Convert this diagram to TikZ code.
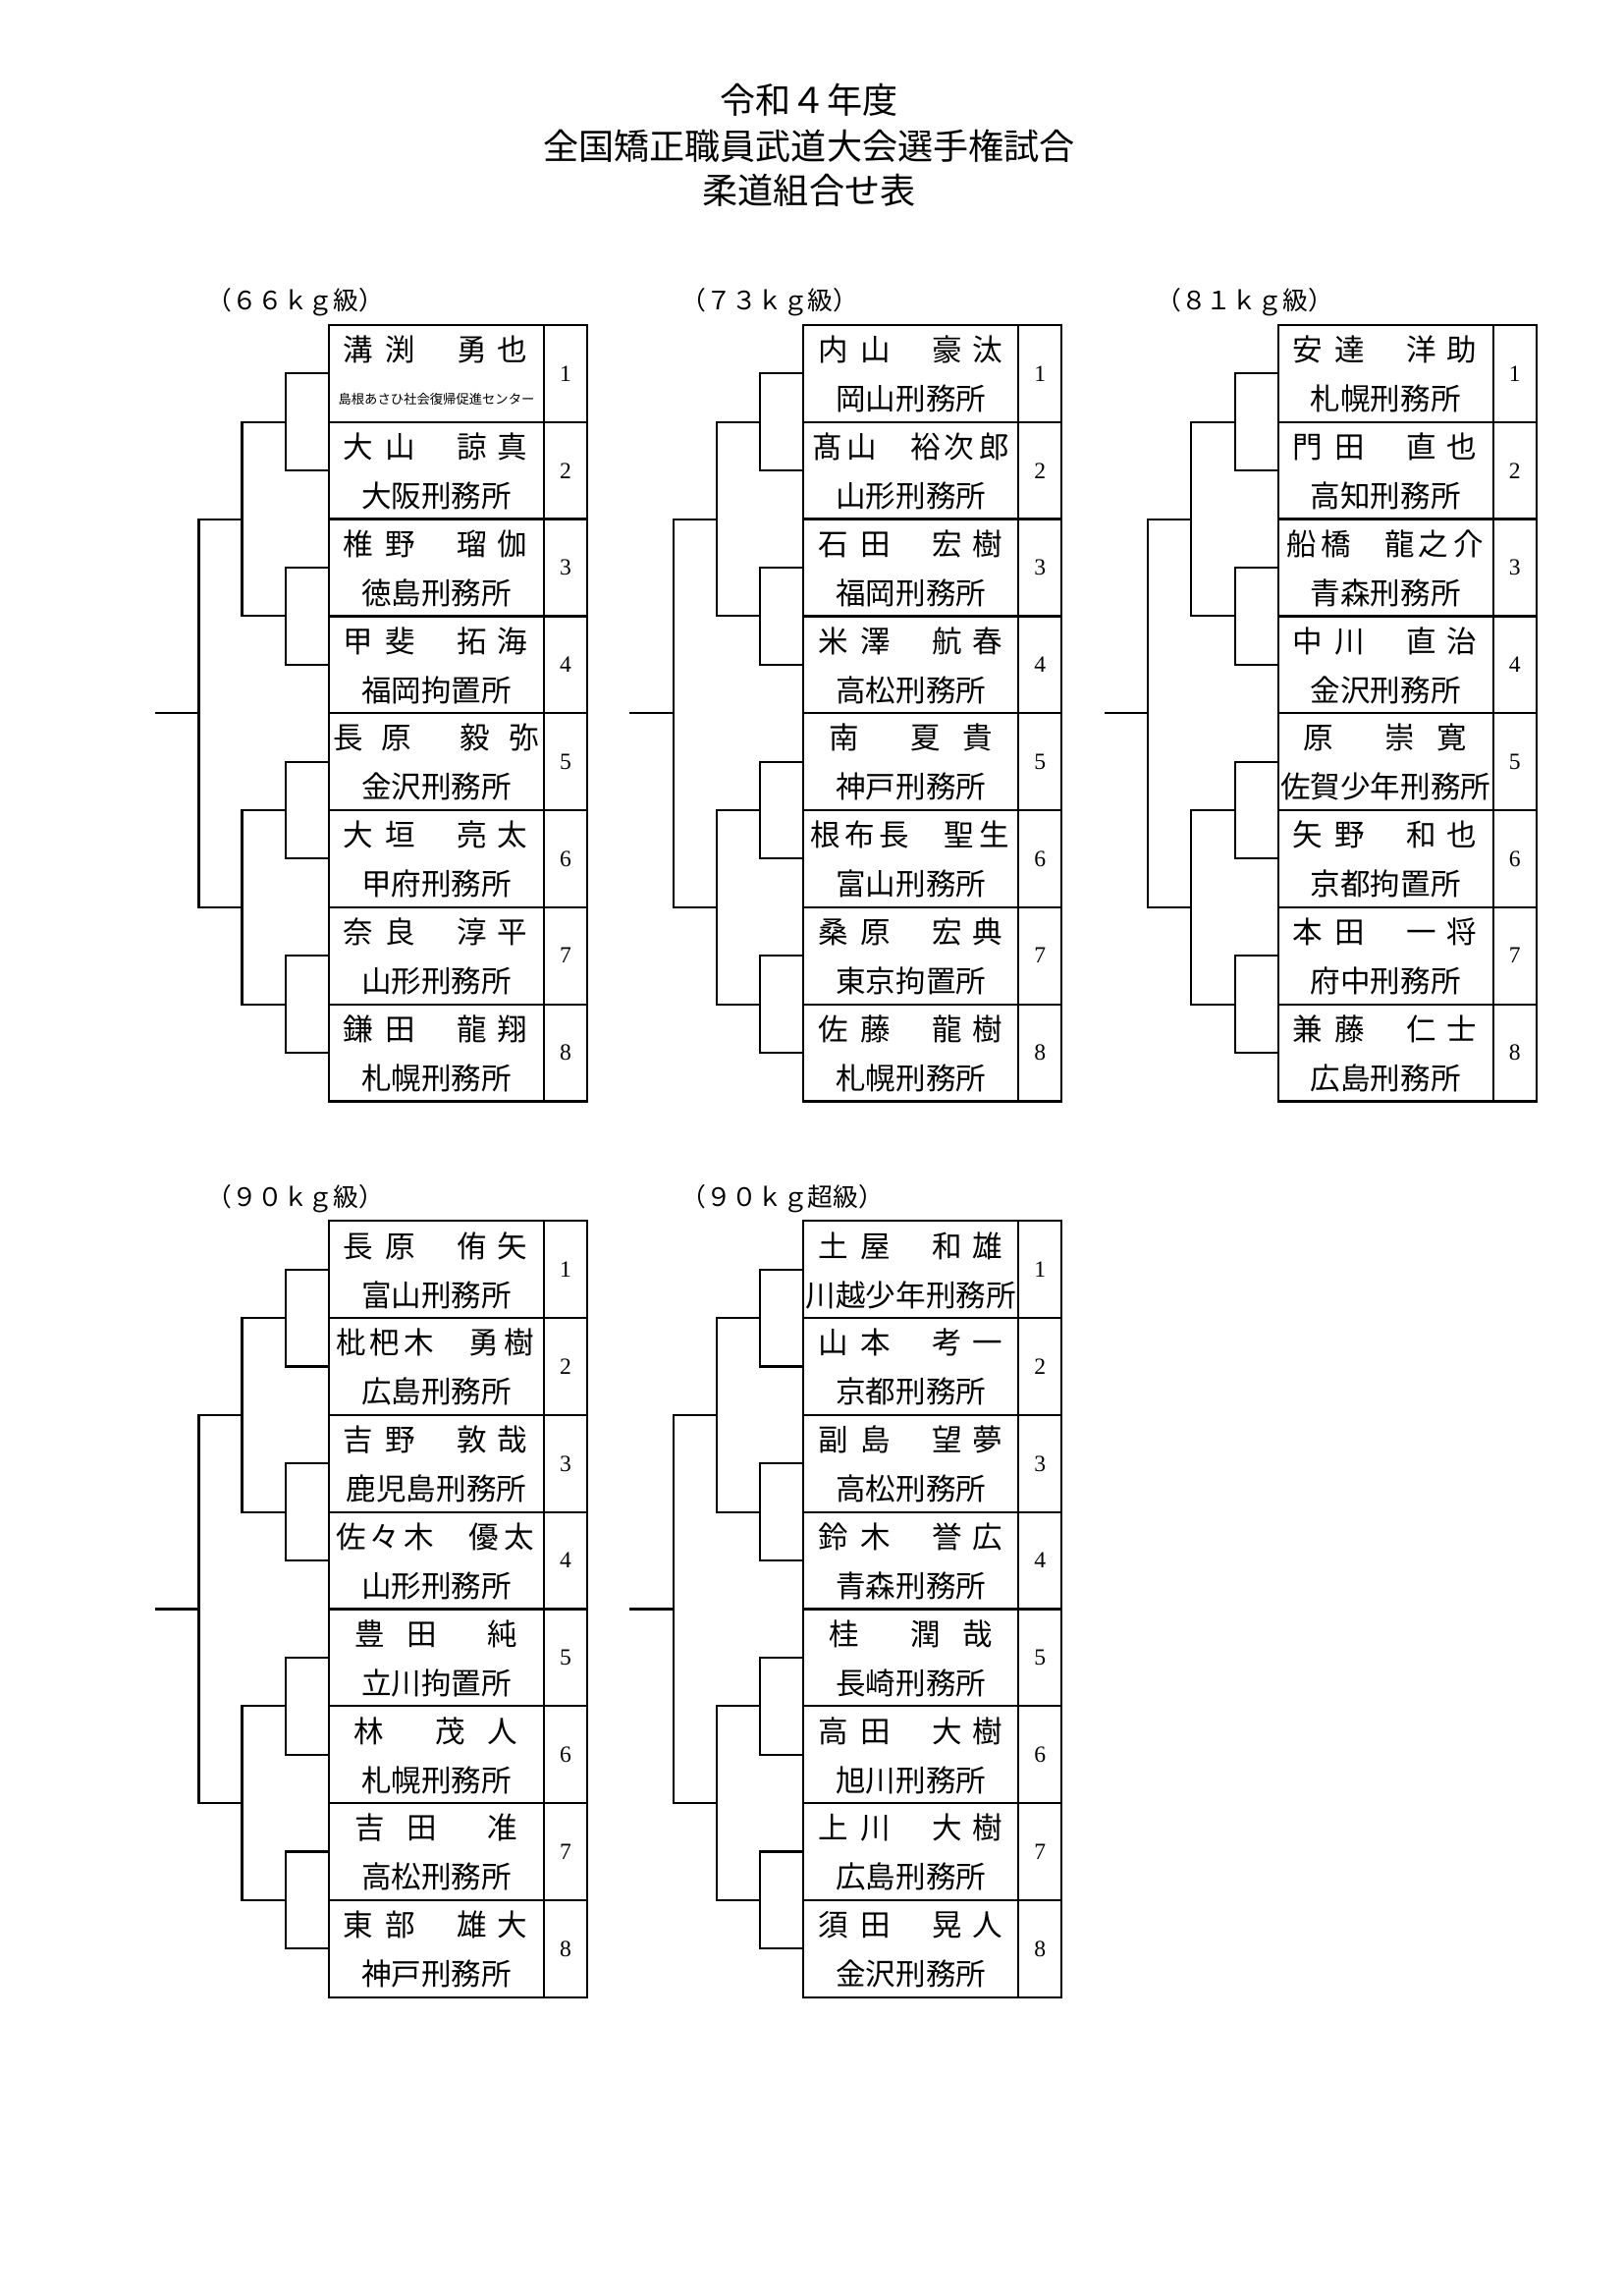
\documentclass[tikz,border=0pt]{standalone}
\usepackage{fontspec}
\setmainfont{Liberation Serif}
\newfontfamily\jp{Noto Sans CJK JP}
\usetikzlibrary{calc}
\tikzset{
  cell/.style={draw, line width=0.8pt, inner sep=0pt, outer sep=0pt, anchor=north west, minimum height=35.58pt},
  namecell/.style={cell, minimum width=78.87pt},
  numcell/.style={cell, minimum width=15.85pt, font=\fontsize{8.5pt}{9pt}\selectfont},
  br/.style={line width=0.75pt},
  nch/.style={inner sep=0pt, font=\jp\fontsize{11pt}{11pt}\selectfont, text height=8.8pt, text depth=1.1pt},
  org/.style={inner sep=0pt, font=\jp\fontsize{11pt}{11pt}\selectfont, text height=8.8pt, text depth=1.1pt},
  orgs/.style={inner sep=0pt, font=\jp\fontsize{4.8pt}{5pt}\selectfont, text height=3.84pt, text depth=0.48pt},
  wlabel/.style={inner sep=0pt, anchor=west, font=\jp\fontsize{9.3pt}{10pt}\selectfont},
  title/.style={inner sep=0pt, font=\jp\fontsize{13pt}{13pt}\selectfont},
}
\newcommand\grp[4]{%
  \node[wlabel] (#1lab) at ({#2-125},{#3-23}) {#4};
  \foreach \i in {1,...,8} {
    \node[namecell] (#1n\i) at ({#2},{#3+(\i-1)*98.8}) {};
    \node[numcell] (#1k\i) at (#1n\i.north east) {\i};
  }
  \foreach \a/\b in {1/2,3/4,5/6,7/8}
    \draw[br] (#1n\a.west) -- ++(-44,0) |- (#1n\b.west);
  \coordinate (#1p1) at ($(#1n1.south west)+(-44,0)$);
  \coordinate (#1p2) at ($(#1n3.south west)+(-44,0)$);
  \coordinate (#1p3) at ($(#1n5.south west)+(-44,0)$);
  \coordinate (#1p4) at ($(#1n7.south west)+(-44,0)$);
  \draw[br] (#1p1) -- ++(-44.5,0) |- (#1p2);
  \draw[br] (#1p3) -- ++(-44.5,0) |- (#1p4);
  \coordinate (#1q1) at ($(#1n2.south west)+(-88.5,0)$);
  \coordinate (#1q2) at ($(#1n6.south west)+(-88.5,0)$);
  \draw[br] (#1q1) -- ++(-44,0) |- (#1q2);
  \coordinate (#1r) at ($(#1n4.south west)+(-132.5,0)$);
  \coordinate (#1s) at ($(#1n4.south west)+(-177,0)$);
  \draw[br] (#1r) -- (#1s);
}
\newcommand\who[4]{%
  \foreach \o/\c [count=\j] in {#2} {\node[nch] (#1c\j) at ($(#1.north west)+(\o,26)$) {\c};}
  \node[#4] (#1o) at ($(#1.north west)+(109.5,76)$) {#3};}
\newcommand\nAA[5]{\who{#1}{30/#2,73/#3,146/#4,187/#5}}
\newcommand\nAW[5]{\who{#1}{20/#2,69/#3,149/#4,199/#5}}
\newcommand\nAB[6]{\who{#1}{24/#2,59/#3,124/#4,158/#5,194/#6}}
\newcommand\nBA[6]{\who{#1}{22.5/#2,57/#3,92/#4,158/#5,194/#6}}
\newcommand\nOB[4]{\who{#1}{41/#2,124/#3,177/#4}}
\newcommand\nBO[4]{\who{#1}{42/#2,95/#3,177/#4}}
\begin{document}
\begin{tikzpicture}[x=0.36013pt,y=-0.36013pt]
\path[fill=white,use as bounding box] (0,0) rectangle (1653,2338);
\node[title] (t1) at (824,102) {令和４年度};
\node[title] (t2) at (824,149) {全国矯正職員武道大会選手権試合};
\node[title] (t3) at (824,194) {柔道組合せ表};
\grp{A}{335}{331}{（６６ｋｇ級）}
\grp{B}{818.3}{331}{（７３ｋｇ級）}
\grp{C}{1301.7}{331}{（８１ｋｇ級）}
\grp{D}{335}{1243.3}{（９０ｋｇ級）}
\grp{E}{818.3}{1243.3}{（９０ｋｇ超級）}
% 66kg
\nAA{An1}{溝}{渕}{勇}{也}{島根あさひ社会復帰促進センター}{orgs}
\nAA{An2}{大}{山}{諒}{真}{大阪刑務所}{org}
\nAA{An3}{椎}{野}{瑠}{伽}{徳島刑務所}{org}
\nAA{An4}{甲}{斐}{拓}{海}{福岡拘置所}{org}
\nAW{An5}{長}{原}{毅}{弥}{金沢刑務所}{org}
\nAA{An6}{大}{垣}{亮}{太}{甲府刑務所}{org}
\nAA{An7}{奈}{良}{淳}{平}{山形刑務所}{org}
\nAA{An8}{鎌}{田}{龍}{翔}{札幌刑務所}{org}
% 73kg
\nAA{Bn1}{内}{山}{豪}{汰}{岡山刑務所}{org}
\nAB{Bn2}{髙}{山}{裕}{次}{郎}{山形刑務所}{org}
\nAA{Bn3}{石}{田}{宏}{樹}{福岡刑務所}{org}
\nAA{Bn4}{米}{澤}{航}{春}{高松刑務所}{org}
\nOB{Bn5}{南}{夏}{貴}{神戸刑務所}{org}
\nBA{Bn6}{根}{布}{長}{聖}{生}{富山刑務所}{org}
\nAA{Bn7}{桑}{原}{宏}{典}{東京拘置所}{org}
\nAA{Bn8}{佐}{藤}{龍}{樹}{札幌刑務所}{org}
% 81kg
\nAA{Cn1}{安}{達}{洋}{助}{札幌刑務所}{org}
\nAA{Cn2}{門}{田}{直}{也}{高知刑務所}{org}
\nAB{Cn3}{船}{橋}{龍}{之}{介}{青森刑務所}{org}
\nAA{Cn4}{中}{川}{直}{治}{金沢刑務所}{org}
\nOB{Cn5}{原}{崇}{寛}{佐賀少年刑務所}{org}
\nAA{Cn6}{矢}{野}{和}{也}{京都拘置所}{org}
\nAA{Cn7}{本}{田}{一}{将}{府中刑務所}{org}
\nAA{Cn8}{兼}{藤}{仁}{士}{広島刑務所}{org}
% 90kg
\nAA{Dn1}{長}{原}{侑}{矢}{富山刑務所}{org}
\nBA{Dn2}{枇}{杷}{木}{勇}{樹}{広島刑務所}{org}
\nAA{Dn3}{吉}{野}{敦}{哉}{鹿児島刑務所}{org}
\nBA{Dn4}{佐}{々}{木}{優}{太}{山形刑務所}{org}
\nBO{Dn5}{豊}{田}{純}{立川拘置所}{org}
\nOB{Dn6}{林}{茂}{人}{札幌刑務所}{org}
\nBO{Dn7}{吉}{田}{准}{高松刑務所}{org}
\nAA{Dn8}{東}{部}{雄}{大}{神戸刑務所}{org}
% 90kg over
\nAA{En1}{土}{屋}{和}{雄}{川越少年刑務所}{org}
\nAA{En2}{山}{本}{考}{一}{京都刑務所}{org}
\nAA{En3}{副}{島}{望}{夢}{高松刑務所}{org}
\nAA{En4}{鈴}{木}{誉}{広}{青森刑務所}{org}
\nOB{En5}{桂}{潤}{哉}{長崎刑務所}{org}
\nAA{En6}{高}{田}{大}{樹}{旭川刑務所}{org}
\nAA{En7}{上}{川}{大}{樹}{広島刑務所}{org}
\nAA{En8}{須}{田}{晃}{人}{金沢刑務所}{org}
\end{tikzpicture}
\end{document}
